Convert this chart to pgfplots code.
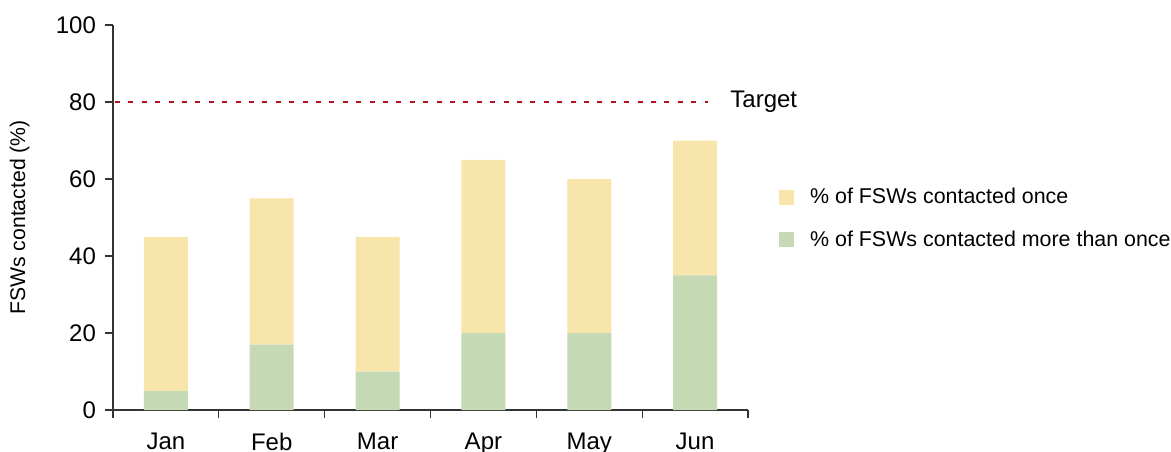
\documentclass[border=0pt]{standalone}
\usepackage{fontspec}
\setmainfont{Liberation Sans}
\usepackage{pgfplots}
\pgfplotsset{compat=1.18}
\definecolor{once}{HTML}{F7E5AC}
\definecolor{more}{HTML}{C5D9B4}
\definecolor{target}{HTML}{B3121F}
\definecolor{axisgray}{HTML}{333333}

\pgfplotstableread{
x more once
0 5  40
1 17 38
2 10 35
3 20 45
4 20 40
5 35 35
}\contacts

\begin{document}
\begin{tikzpicture}
\begin{axis}[
  scale only axis,
  width=317.5pt, height=192.5pt,
  xmin=-0.5, xmax=5.5,
  ymin=0, ymax=100,
  axis lines*=left,
  axis line style={axisgray, line width=0.6pt},
  ybar stacked,
  bar width=22pt,
  xtick={0,...,5},
  xticklabels={Jan,Feb,Mar,Apr,May,Jun},
  minor xtick={-0.5,0.5,...,5.5},
  major x tick style={draw=none},
  minor x tick style={axisgray, line width=0.6pt},
  minor tick length=4pt,
  ytick={0,20,...,100},
  y tick style={axisgray, line width=0.6pt},
  major tick length=4pt,
  tick pos=left,
  tick align=outside,
  /pgf/number format/assume math mode=true,
  ticklabel style={font=\fontsize{12}{14}\selectfont, text=black},
  xticklabel style={yshift=-4pt},
  yticklabel style={xshift=-1pt},
  ylabel={FSWs contacted (\%)},
  ylabel style={font=\fontsize{10.6}{12}\selectfont, at={(axis description cs:-0.147,0.5)}, anchor=center},
  legend style={draw=none, fill=none, at={(1.039,0.497)}, anchor=west,
    font=\fontsize{10.7}{12}\selectfont, row sep=8pt},
  legend cell align=left,
  reverse legend,
  legend image code/.code={\fill[#1] (0pt,-3.75pt) rectangle (7.5pt,3.75pt); \path (13.5pt,0pt);},
]
\addplot[fill=more, draw=none] table[x=x, y=more] {\contacts};
\addlegendentry{\% of FSWs contacted more than once}
\addplot[fill=once, draw=none] table[x=x, y=once] {\contacts};
\addlegendentry{\% of FSWs contacted once}
\end{axis}
\begin{axis}[
  scale only axis,
  width=317.5pt, height=192.5pt,
  xmin=-0.5, xmax=5.5,
  ymin=0, ymax=100,
  hide axis,
  clip=false,
]
\addplot[target, line width=1.3pt, dash pattern=on 2.5pt off 4.2pt, dash phase=-1pt] coordinates {(-0.5,80) (5.12,80)};
\node[anchor=west, font=\fontsize{12}{14}\selectfont, inner sep=0pt] at (axis cs:5.33,80) {Target};
\end{axis}
\pgfresetboundingbox
\path[use as bounding box] (-56.5pt,-20.5pt) rectangle (529pt,205pt);
\end{tikzpicture}
\end{document}
